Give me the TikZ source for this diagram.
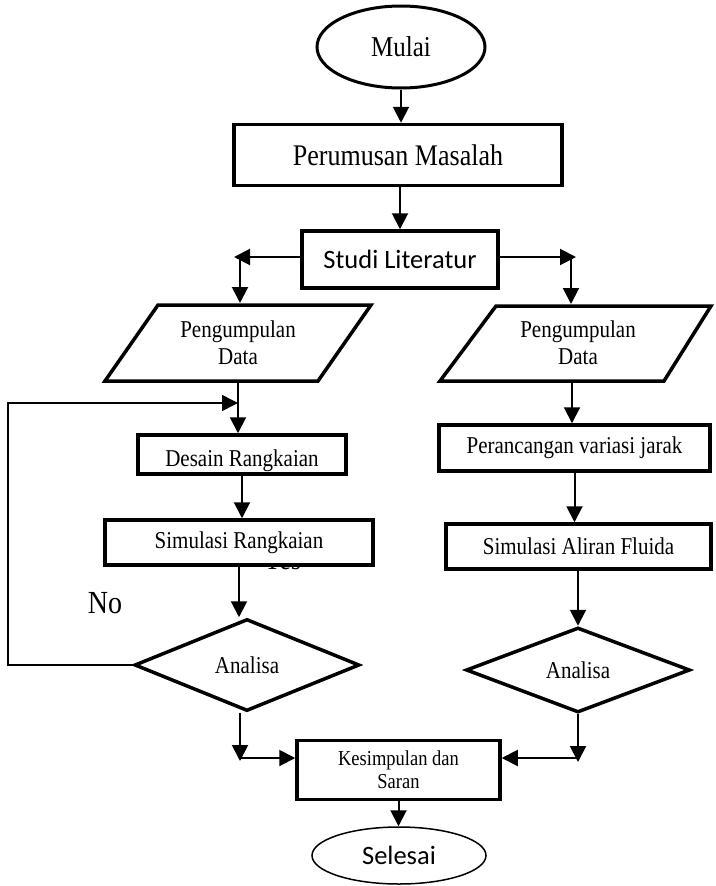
\documentclass[tikz,border=0pt]{standalone}
\usepackage{graphicx}
\usepackage{fontspec}
\setmainfont{Liberation Serif}
\newfontfamily\sansfnt{Carlito}
\usetikzlibrary{shapes.geometric,arrows.meta}
\newcommand{\vst}[1]{\scalebox{1}[1.15]{#1}}
\begin{document}
\begin{tikzpicture}[x=1pt,y=-1pt,
  box/.style={draw,line width=3.5pt,fill=white,inner sep=0pt,align=center,font=\fontsize{21}{27}\selectfont},
  para/.style={draw,line width=3.5pt,line join=miter},
  dia/.style={diamond,draw,line width=3.5pt,fill=white,inner sep=0pt,font=\fontsize{21}{24}\selectfont},
  arr/.style={line width=2pt,-{Triangle[length=16pt,width=16pt]}},
  looparr/.style={line width=1.5pt,-{Triangle[length=16pt,width=16pt]}},
  ptext/.style={align=center,inner sep=0pt,font=\fontsize{21}{27}\selectfont}]
\useasboundingbox (0,0) rectangle (715,886);

% start
\node[ellipse,draw,line width=3pt,minimum width=168pt,minimum height=82pt,inner sep=0pt,font=\fontsize{25}{28}\selectfont] (mulai) at (401,47) {\vst{Mulai}};

\node[box,minimum width=328pt,minimum height=61pt,font=\fontsize{26}{30}\selectfont] (perum) at (398,155) {\vst{Perumusan Masalah}};
\node[box,minimum width=196pt,minimum height=57pt,font=\sansfnt\fontsize{26.5}{30}\selectfont] (studi) at (400,259.5) {Studi Literatur};

% left parallelogram
\draw[para] (158,305) -- (371,305) -- (318,381) -- (105,381) -- cycle;
\node[ptext] (pdL) at (238,343) {\vst{Pengumpulan}\\\vst{Data}};
\coordinate (pdLtop) at (240,303);
\coordinate (pdLbot) at (238,383);

% right parallelogram
\draw[para] (496,306) -- (711,306) -- (664,381) -- (440,381) -- cycle;
\node[ptext] (pdR) at (578,343) {\vst{Pengumpulan}\\\vst{Data}};
\coordinate (pdRtop) at (571,304);
\coordinate (pdRbot) at (572,383);

% Yes label (mostly hidden behind the box)
\node[font=\fontsize{26}{30}\selectfont,anchor=base,inner sep=0pt] (yes) at (282,569.5) {\vst{Yes}};

% left column
\node[box,minimum width=208pt,minimum height=39pt] (desain) at (242,454.5) {\raisebox{-11.5pt}[0pt][0pt]{\vst{Desain Rangkaian}}};
\node[box,minimum width=268pt,minimum height=45pt] (simR) at (239,542.5) {\vst{Simulasi Rangkaian}};
\node[dia,minimum width=225pt,minimum height=92pt] (dL) at (247,665) {\vst{Analisa}};

% right column
\node[box,minimum width=271pt,minimum height=46pt] (perc) at (574.5,448) {\vst{Perancangan variasi jarak}};
\node[box,minimum width=265pt,minimum height=45pt] (simA) at (578.5,546.5) {\vst{Simulasi Aliran Fluida}};
\node[dia,minimum width=224pt,minimum height=85pt] (dR) at (578,670) {\vst{Analisa}};

% end
\node[box,minimum width=203pt,minimum height=59pt,font=\fontsize{18.5}{23}\selectfont] (kes) at (398.5,770) {\vst{Kesimpulan dan}\\\vst{Saran}};
\node[ellipse,draw,line width=1.5pt,minimum width=174pt,minimum height=57pt,inner sep=0pt,font=\sansfnt\fontsize{26.5}{30}\selectfont] (sel) at (399,855.5) {Selesai};

\node[font=\fontsize{28}{30}\selectfont,inner sep=0pt] (no) at (105,603) {\vst{No}};

% connectors
\draw[arr] (mulai.south) -- (mulai.south |- perum.north);
\draw[arr] (studi.north |- perum.south) -- (studi.north);

\coordinate (cL) at (240,257);
\coordinate (tipL) at (234,257);
\draw[arr] (studi.west |- cL) -- (tipL);
\draw[arr] (cL) -- (pdLtop);

\coordinate (cR) at (571,257);
\coordinate (tipR) at (576,257);
\draw[arr] (studi.east |- cR) -- (tipR);
\draw[arr] (cR) -- (pdRtop);

\draw[arr] (pdLbot) -- (pdLbot |- desain.north);
\coordinate (lp) at (8,403);
\coordinate (lpend) at (238,403);
\draw[looparr] (dL.west) -| (lp) -- (lpend);
\draw[arr] (desain.south) -- (desain.south |- simR.north);
\draw[arr] (simR.south) -- (simR.south |- dL.north);

\coordinate (jL) at (240,761);
\coordinate (hL) at (240,758);
\draw[arr] (jL |- dL.south) -- (jL);
\draw[arr] (hL) -- (hL -| kes.west);

\draw[arr] (pdRbot) -- (pdRbot |- perc.north);
\draw[arr] (perc.south) -- (perc.south |- simA.north);
\draw[arr] (dR.north |- simA.south) -- (dR.north);

\coordinate (jR) at (578,762);
\coordinate (hR) at (578,758);
\draw[arr] (dR.south) -- (jR);
\draw[arr] (hR) -- (hR -| kes.east);

\draw[arr] (kes.south) -- (kes.south |- sel.north);
\end{tikzpicture}
\end{document}
